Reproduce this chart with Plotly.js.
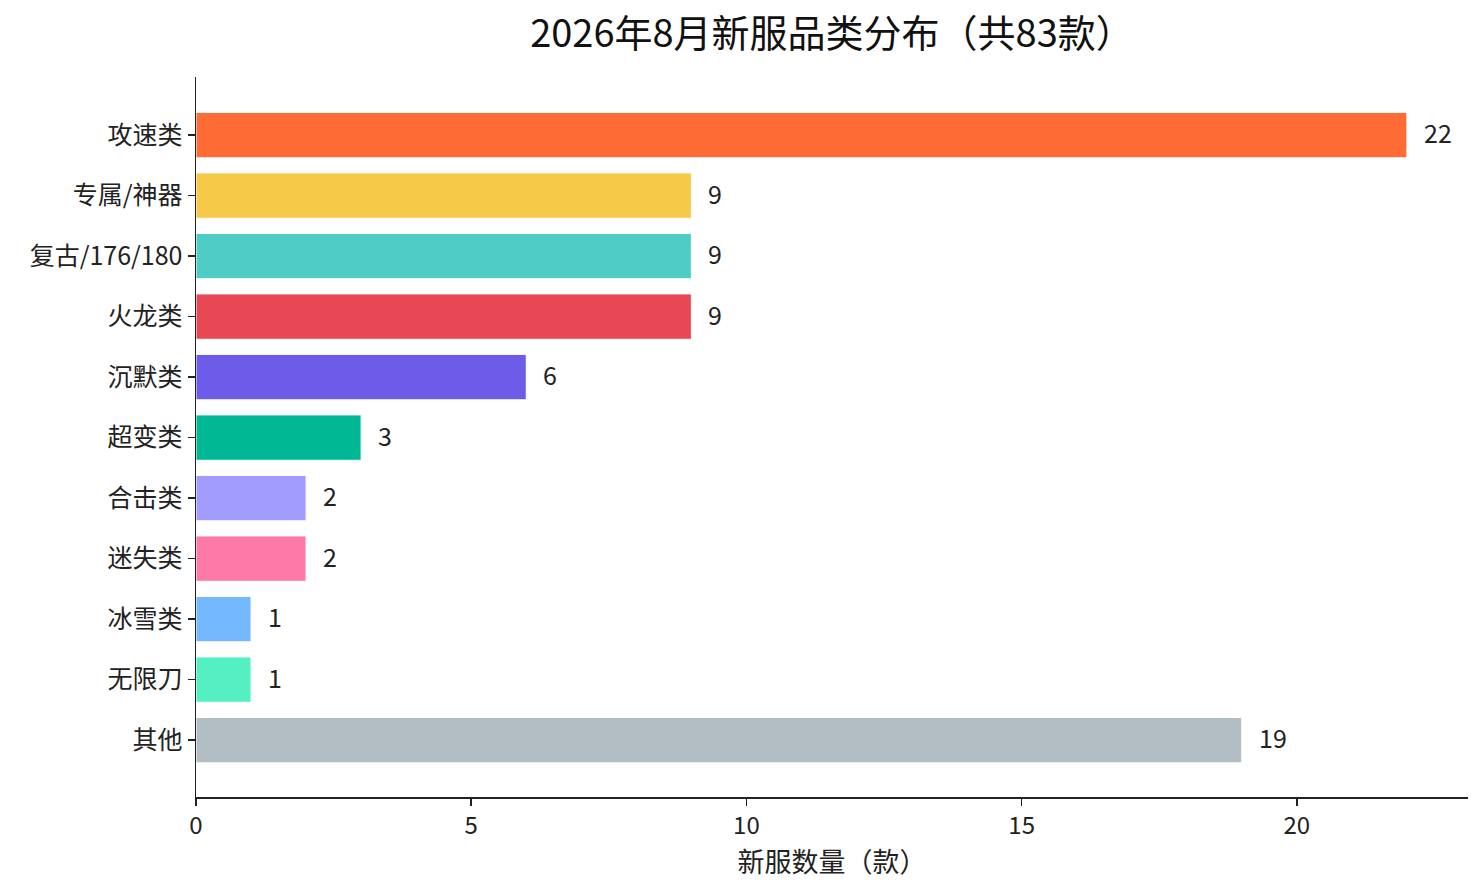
<!DOCTYPE html>
<html>
<head>
<meta charset="utf-8">
<script src="https://cdn.plot.ly/plotly-3.0.1.min.js"></script>
<style>
  html, body { margin: 0; padding: 0; background: #fff; }
  #chart { width: 1483px; height: 886px; }
</style>
</head>
<body>
<div id="chart"></div>
<script>
// 2026年8月新服品类分布 — horizontal bar chart

const categories = ['攻速类', '专属/神器', '复古/176/180', '火龙类', '沉默类', '超变类', '合击类', '迷失类', '冰雪类', '无限刀', '其他'];
const counts = [22, 9, 9, 9, 6, 3, 2, 2, 1, 1, 19];
const barColors = ['#FF6B35', '#F7C948', '#4ECDC4', '#E84855', '#6C5CE7', '#00B894', '#A29BFE', '#FD79A8', '#74B9FF', '#55EFC4', '#B2BEC3'];
const xTicks = [0, 5, 10, 15, 20];

const FONT = "'Noto Sans CJK SC', 'Noto Sans', sans-serif";
const INK = '#222222';

const trace = {
  type: 'bar',
  orientation: 'h',
  x: counts,
  y: categories,
  width: 0.75,
  marker: {
    color: barColors,
    line: { color: '#ffffff', width: 1 },
  },
  hoverinfo: 'x+y',
  showlegend: false,
};

// value labels to the right of each bar
const valueLabels = counts.map((v, i) => ({
  x: v,
  y: categories[i],
  xref: 'x',
  yref: 'y',
  text: String(v),
  showarrow: false,
  xanchor: 'left',
  yanchor: 'middle',
  xshift: 15,
  yshift: 3,
  font: { family: FONT, size: 25, color: INK },
}));

const layout = {
  width: 1483,
  height: 886,
  paper_bgcolor: '#ffffff',
  plot_bgcolor: '#ffffff',
  margin: { l: 196, r: 15, t: 77, b: 89 },
  font: { family: FONT, color: INK },
  title: {
    text: '2026年8月新服品类分布（共83款）',
    font: { family: FONT, size: 38, color: '#111111' },
    x: 0.561,
    xanchor: 'center',
    y: 0.962,
    yanchor: 'middle',
  },
  xaxis: {
    range: [0, 23.11],
    tickvals: xTicks,
    ticktext: xTicks.map(String),
    ticks: 'outside',
    ticklen: 7,
    tickwidth: 1.5,
    tickcolor: INK,
    showline: true,
    linecolor: INK,
    linewidth: 1.5,
    showgrid: false,
    zeroline: false,
    automargin: true,
    tickfont: { family: FONT, size: 24, color: INK },
    title: {
      text: '新服数量（款）',
      font: { family: FONT, size: 27, color: INK },
      standoff: 2,
    },
  },
  yaxis: {
    type: 'category',
    range: [10.94, -0.96],
    ticks: 'outside',
    ticklen: 7,
    tickwidth: 1.5,
    tickcolor: INK,
    showline: true,
    linecolor: INK,
    linewidth: 1.5,
    showgrid: false,
    zeroline: false,
    tickfont: { family: FONT, size: 25, color: INK },
  },
  annotations: valueLabels,
  bargap: 0.25,
};

Plotly.newPlot('chart', [trace], layout, { staticPlot: true, displayModeBar: false });
</script>
</body>
</html>
